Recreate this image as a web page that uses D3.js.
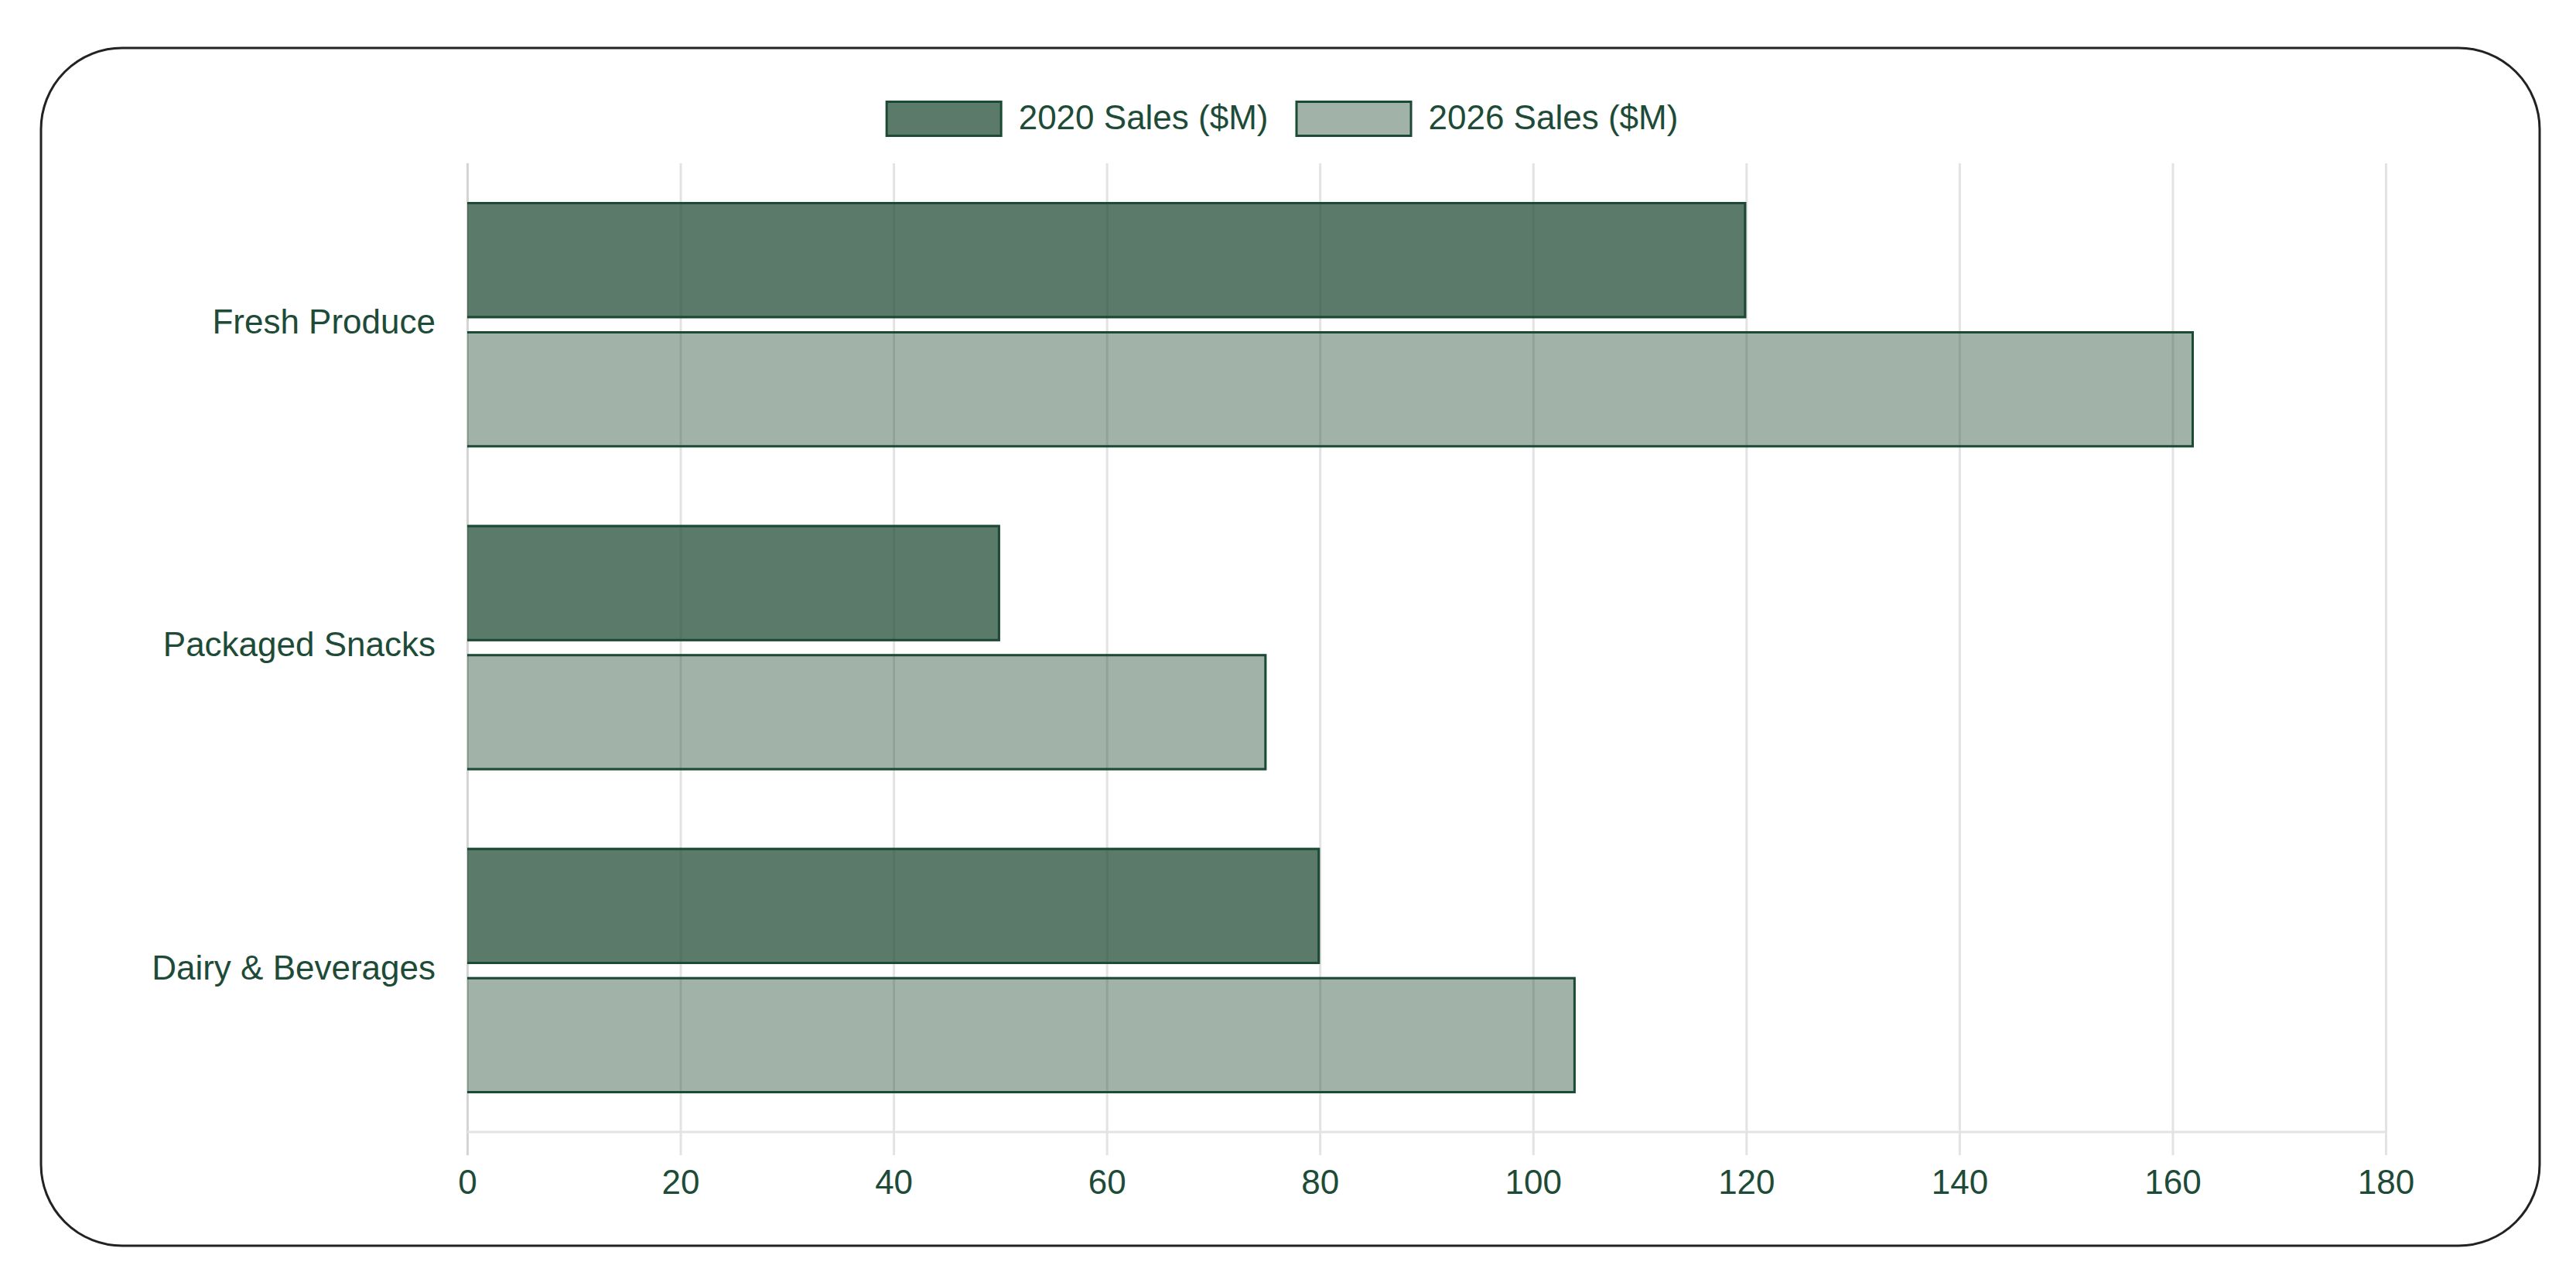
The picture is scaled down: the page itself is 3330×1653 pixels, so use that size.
<!DOCTYPE html>
<html>
<head>
<meta charset="utf-8">
<script src="https://cdn.jsdelivr.net/npm/d3@7"></script>
<style>
  html, body { margin: 0; padding: 0; background: #fff; }
  svg { display: block; }
  text { font-family: "Liberation Sans", Arial, sans-serif; }
</style>
</head>
<body>
<svg id="chart" width="3330" height="1653"></svg>
<script>
// ---- data ----
const categories = ["Fresh Produce", "Packaged Snacks", "Dairy & Beverages"];
const seriesNames = ["2020 Sales ($M)", "2026 Sales ($M)"];
const sales2020 = [120, 50, 80];
const sales2026 = [162, 75, 104];
const xTickValues = [0, 20, 40, 60, 80, 100, 120, 140, 160, 180];

// ---- style ----
const W = 3330, H = 1653;
const plot = { left: 604, right: 3084, top: 211, bottom: 1463 };
const textColor = "#1e4b38";
const borderColor = "#1b4a35";
const fills = ["rgba(38,78,55,0.75)", "rgba(38,78,55,0.43)"];
const gridColor = "#e3e3e3";
const fontSize = 44;

const svg = d3.select("#chart");

// outer rounded frame
svg.append("rect")
  .attr("x", 53).attr("y", 62)
  .attr("width", 3283 - 53).attr("height", 1610 - 62)
  .attr("rx", 105).attr("ry", 105)
  .attr("fill", "#fff")
  .attr("stroke", "#222").attr("stroke-width", 3);

const x = d3.scaleLinear().domain([0, 180]).range([plot.left, plot.right]);
const y = d3.scaleBand().domain(categories).range([plot.top, plot.bottom]).padding(0);
const bw = y.bandwidth();
const ySub = d3.scaleBand().domain(seriesNames)
  .range([0.1 * bw, 0.9 * bw]).paddingInner(0.1).paddingOuter(0.05);

// x grid + axis
const xAxis = d3.axisBottom(x)
  .tickValues(xTickValues)
  .tickSizeOuter(0)
  .tickFormat(d3.format("d"));
const gx = svg.append("g")
  .attr("transform", `translate(0,${plot.bottom})`)
  .call(xAxis);
gx.select(".domain").remove();
gx.selectAll(".tick line")
  .attr("y1", 30)
  .attr("y2", -(plot.bottom - plot.top))
  .attr("stroke", (d) => d === 0 ? "#d4d4d4" : gridColor)
  .attr("stroke-width", 3);
gx.selectAll(".tick text")
  .attr("y", 65).attr("dy", "0.35em")
  .attr("fill", textColor)
  .style("font-size", fontSize + "px")
  .style("font-family", "'Liberation Sans', Arial, sans-serif");

// horizontal axis line
svg.append("line")
  .attr("x1", x(0)).attr("x2", x(180))
  .attr("y1", plot.bottom).attr("y2", plot.bottom)
  .attr("stroke", gridColor).attr("stroke-width", 3);

// y axis labels
const yAxis = d3.axisLeft(y).tickSize(0).tickPadding(41);
const gy = svg.append("g")
  .attr("transform", `translate(${plot.left},0)`)
  .call(yAxis);
gy.select(".domain").remove();
gy.selectAll(".tick text")
  .attr("dy", "0.26em")
  .attr("fill", textColor)
  .style("font-size", fontSize + "px")
  .style("font-family", "'Liberation Sans', Arial, sans-serif");

// bars
const rows = categories.map((c, i) => ({ cat: c, vals: [sales2020[i], sales2026[i]] }));
const groups = svg.append("g").selectAll("g.cat")
  .data(rows).join("g")
  .attr("transform", (d) => `translate(0,${y(d.cat)})`);

const bars = groups.selectAll("g.bar")
  .data((d) => d.vals.map((v, j) => ({ v, s: seriesNames[j], j })))
  .join("g");

bars.append("rect")
  .attr("x", x(0))
  .attr("y", (d) => ySub(d.s))
  .attr("width", (d) => x(d.v) - x(0))
  .attr("height", ySub.bandwidth())
  .attr("fill", (d) => fills[d.j]);

bars.append("path")
  .attr("d", (d) => {
    const x0 = x(0), x1 = x(d.v) - 1.5;
    const y0 = ySub(d.s) + 1.5, y1 = ySub(d.s) + ySub.bandwidth() - 1.5;
    return `M${x0},${y0}H${x1}V${y1}H${x0}`;
  })
  .attr("fill", "none")
  .attr("stroke", borderColor)
  .attr("stroke-width", 3);

// legend
const boxW = 151, boxH = 47, textGap = 21, itemGap = 35, legendY = 130, legendCenter = 1657;
const legend = svg.append("g");
const items = legend.selectAll("g").data(seriesNames).join("g");
items.append("text")
  .attr("y", legendY + boxH / 2)
  .attr("dy", "0.3em")
  .attr("fill", textColor)
  .style("font-size", fontSize + "px")
  .text((d) => d);
const widths = [];
items.select("text").each(function () { widths.push(this.getComputedTextLength()); });
const total = widths.reduce((a, w) => a + boxW + textGap + w, 0) + itemGap * (widths.length - 1);
let cx = legendCenter - total / 2;
items.each(function (d, i) {
  const g = d3.select(this);
  g.insert("rect", "text")
    .attr("x", cx + 1.5).attr("y", legendY + 1.5)
    .attr("width", boxW - 3).attr("height", boxH - 3)
    .attr("fill", fills[i])
    .attr("stroke", borderColor).attr("stroke-width", 3);
  g.select("text").attr("x", cx + boxW + textGap);
  cx += boxW + textGap + widths[i] + itemGap;
});
</script>
</body>
</html>
